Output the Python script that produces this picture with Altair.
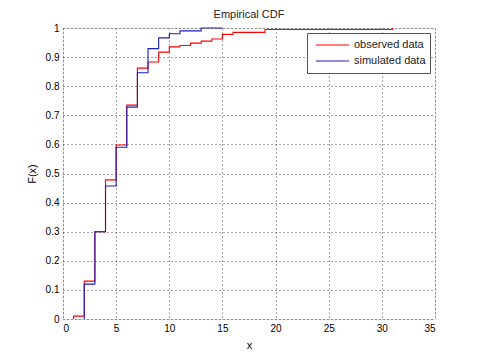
import altair as alt
import pandas as pd

obs_x = [1, 1, 2, 3, 4, 5, 6, 7, 8, 9, 10, 11, 12, 13, 14, 15, 16, 19, 31]
obs_y = [0, 0.01, 0.13, 0.30, 0.478, 0.598, 0.735, 0.862, 0.883, 0.917,
         0.935, 0.94, 0.948, 0.955, 0.962, 0.978, 0.985, 0.995, 1.0]
sim_x = [2, 2, 3, 4, 5, 6, 7, 8, 9, 10, 11, 13, 15]
sim_y = [0, 0.12, 0.30, 0.457, 0.59, 0.728, 0.846, 0.929, 0.966, 0.98, 0.99, 1.0, 1.0]
series = ["observed data", "simulated data"]
colors = ["#ff0000", "#1c1cc0"]
x_ticks = [0, 5, 10, 15, 20, 25, 30, 35]
y_ticks = [0, 0.1, 0.2, 0.3, 0.4, 0.5, 0.6, 0.7, 0.8, 0.9, 1]

rows = []
for i, (xv, yv) in enumerate(zip(obs_x, obs_y)):
    rows.append({"x": xv, "F": yv, "series": series[0], "order": i})
for i, (xv, yv) in enumerate(zip(sim_x, sim_y)):
    rows.append({"x": xv, "F": yv, "series": series[1], "order": i})
df = pd.DataFrame(rows)

font = "Liberation Sans"

xscale = alt.Scale(domain=[0, 35], nice=False, zero=False)
yscale = alt.Scale(domain=[0, 1], nice=False)

lines = alt.Chart(df).mark_line(interpolate="step-after", strokeWidth=1.1).encode(
    x=alt.X("x:Q", scale=xscale, title="x",
            axis=alt.Axis(values=x_ticks, grid=True, gridDash=[1, 3], gridColor="#000000",
                          gridOpacity=0.7, ticks=False, labelPadding=4, domain=False,
                          titlePadding=6, titleFontWeight="normal")),
    y=alt.Y("F:Q", scale=yscale, title="F(x)",
            axis=alt.Axis(values=y_ticks, grid=True, gridDash=[1, 3], gridColor="#000000",
                          gridOpacity=0.7, ticks=False, labelPadding=4, domain=False,
                          titlePadding=8, format="g", titleFontWeight="normal")),
    color=alt.Color("series:N", scale=alt.Scale(domain=series, range=colors),
                    legend=alt.Legend(title=None, orient="none", legendX=244, legendY=5,
                                      symbolType="M-1,0H1", symbolSize=1100, symbolStrokeWidth=1.1,
                                      strokeColor="#555555", fillColor="#ffffff",
                                      padding=4, rowPadding=0, labelFont=font, labelFontSize=11,
                                      labelColor="#222222", labelLimit=200, symbolOffset=4,
                                      clipHeight=16)),
    order="order:Q",
)

chart = lines.properties(
    width=372, height=291,
    title=alt.TitleParams("Empirical CDF", font=font, fontSize=11, fontWeight="normal",
                          color="#222222", offset=3),
    autosize=alt.AutoSizeParams(type="none"),
    padding={"left": 55, "top": 20, "right": 30, "bottom": 40},
).configure_view(stroke="#808080", strokeWidth=1.5).configure_axis(
    labelFont=font, labelFontSize=11, labelColor="#333333",
    titleFont=font, titleFontSize=11, titleFontWeight="normal", titleColor="#333333",
).configure(background="#ffffff")

chart.save("out.html", embed_options={"renderer": "svg", "actions": False})
